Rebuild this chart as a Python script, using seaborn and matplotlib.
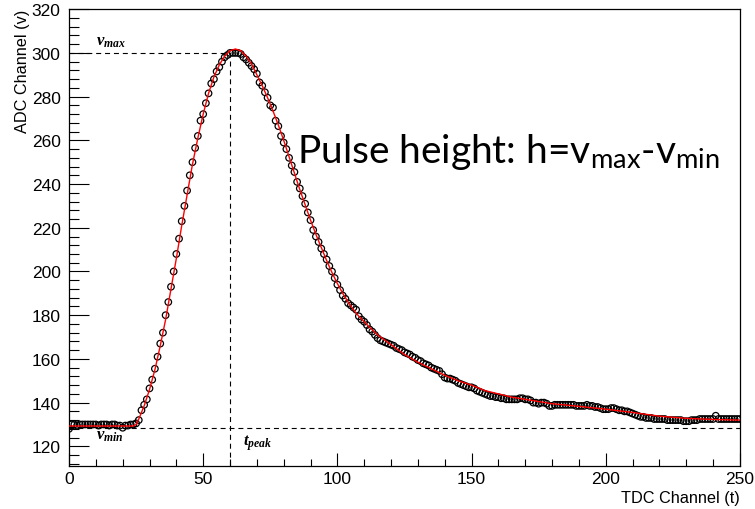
import numpy as np
import pandas as pd
import matplotlib.pyplot as plt
import seaborn as sns
from matplotlib.ticker import MultipleLocator

# measured pulse, one ADC value per TDC channel (0..250)
tdc = list(range(0, 251))
adc = [
    # 0-24 baseline
    128, 130, 130, 129.5, 130, 130, 130, 130, 130, 130,
    130, 129.5, 130, 130, 130, 129.5, 130, 130, 129.5, 129.5,
    128.5, 129.5, 129.5, 130, 130,
    # 25-64 rise and peak
    130.5, 132, 136.5, 139, 141.5, 146.5, 150.5, 155.5, 161, 167,
    172, 180, 186, 193, 200, 208, 215, 223, 230, 237,
    244, 250, 256.5, 262, 269, 272, 277, 281.5, 286, 288,
    291.5, 293.5, 296, 298, 299, 300, 300, 300, 300, 299.5,
    # 65-98 fall
    298, 297, 295.5, 294, 292.5, 290.5, 286.5, 285, 282, 279.5,
    276, 275, 269, 266.5, 262, 259, 256, 252, 248.5, 245.5,
    241, 238, 234.5, 231, 227, 223.5, 219, 216, 213.5, 210.5,
    208, 205.5, 202.5, 200,
    # 99-250 tail
    197, 194, 191.5, 189, 187.5, 185.5, 184.5, 183.5, 182.5, 179.5,
    178, 177, 175.5, 173.5, 172.5, 171, 169.5, 168.5, 168, 167.5,
    167, 166.5, 166, 165, 164.5, 164, 163, 162.5, 162, 161,
    160.5, 159.5, 159, 158, 157.5, 157, 156, 155.5, 155, 154.5,
    153, 151.5, 151, 151, 150.5, 150, 149, 148.5, 148, 147.5,
    147, 147, 146.5, 145.5, 145, 144.5, 144, 143.5, 143, 143,
    142.5, 142.5, 142, 142, 141.5, 141.5, 141.5, 141.5, 141.5, 142,
    142, 141.5, 141.5, 141, 140, 140, 139.5, 140, 140, 139.5,
    138.5, 138.5, 139, 139, 139, 139, 139, 139, 139, 139,
    138.5, 138.5, 138.5, 138.5, 139, 138.5, 138.5, 138, 138, 137.5,
    137, 137, 137, 137.5, 137.5, 137, 136.5, 136.5, 136, 136,
    135.5, 135, 134.5, 134, 133.5, 133.5, 133, 133, 133, 132.5,
    132.5, 132.5, 132.5, 132.5, 132, 132, 132, 132, 132, 132,
    131.5, 131.5, 131.5, 132, 132, 132, 132.5, 132.5, 132.5, 132.5,
    132.5, 132.5, 134, 132.5, 132.5, 132.5, 132.5, 132.5, 132.5, 132.5,
    132.5, 132.5,
]

# fitted pulse shape (red curve)
fit_t = [0, 24, 25, 26, 28, 30, 32, 34, 36, 38, 40, 42, 44, 46, 48, 50,
         52, 54, 56, 58, 60, 62, 64, 66, 68, 70, 72, 74, 76, 78, 80, 82,
         84, 86, 88, 90, 92, 94, 96, 98, 100, 102, 104, 106, 108, 110, 112,
         115, 120, 125, 130, 135, 140, 145, 150, 155, 160, 165, 170, 180,
         190, 200, 210, 220, 230, 240, 250]
fit_v = [129.3, 129.3, 130, 132.5, 138.5, 146, 155, 166, 178, 192, 206, 221,
         235, 249, 261, 272, 281.5, 289, 294.5, 298.5, 301, 301.8, 301, 298.5,
         295, 290, 285, 279.5, 273.5, 267, 260, 252.5, 245, 237.5, 230.5,
         223.5, 217, 211, 205, 199.5, 194.5, 190, 186, 182.5, 179.5, 177,
         174.5, 171, 166.5, 162, 158.5, 155.5, 152.5, 150, 148, 145.5, 144,
         142.5, 141.5, 139.5, 138.3, 137, 135.5, 133.8, 132.8, 132.3, 132]

v_max = 300
v_min = 128.5
t_peak = 60

df = pd.DataFrame({'tdc': tdc, 'adc': adc})
fit = pd.DataFrame({'t': fit_t, 'v': fit_v})

sns.set_style('ticks')
plt.rcParams['font.family'] = ['Liberation Sans', 'DejaVu Sans']
plt.rcParams['mathtext.fontset'] = 'custom'
plt.rcParams['mathtext.it'] = 'Liberation Serif:italic:bold'
plt.rcParams['mathtext.rm'] = 'Liberation Serif:italic:bold'
for key in ['text.color', 'axes.labelcolor', 'xtick.color', 'ytick.color', 'axes.edgecolor']:
    plt.rcParams[key] = 'black'

fig, ax = plt.subplots(figsize=(7.55, 5.10), dpi=100)
fig.subplots_adjust(left=0.0914, right=0.980, bottom=0.0843, top=0.980)

ymin = 111
ax.set_xlim(0, 250)
ax.set_ylim(ymin, 320)

# dashed guide lines
ax.hlines(v_max, 0, t_peak, colors='black', linestyles=(0, (4.5, 3.5)), lw=0.8)
ax.vlines(t_peak, ymin, v_max, colors='black', linestyles=(0, (4.5, 3.5)), lw=0.8)
ax.hlines(v_min, 0, 250, colors='black', linestyles=(0, (4.5, 3.5)), lw=0.8)

sns.scatterplot(data=df, x='tdc', y='adc', ax=ax, marker='o', s=22,
                facecolors='none', edgecolor='black', linewidth=0.9, zorder=3)
sns.lineplot(data=fit, x='t', y='v', ax=ax, color='red', lw=1.0, zorder=4)

ax.text(10, 304, r'$v_{max}$', fontsize=12)
ax.text(10, 123.5, r'$v_{min}$', fontsize=12)
ax.text(65, 121, r'$t_{peak}$', fontsize=12)
ax.text(85, 250, r'Pulse height: h=v$_\mathregular{max}$-v$_\mathregular{min}$',
        family='Lato', fontsize=28)

ax.xaxis.set_major_locator(MultipleLocator(50))
ax.xaxis.set_minor_locator(MultipleLocator(10))
ax.yaxis.set_major_locator(MultipleLocator(20))
ax.yaxis.set_minor_locator(MultipleLocator(4))
ax.tick_params(axis='both', which='both', direction='in', top=False, right=False,
               width=0.8, labelsize=12.5, colors='black')
ax.tick_params(axis='y', which='major', length=14.4, pad=6)
ax.tick_params(axis='y', which='minor', length=7.2)
ax.tick_params(axis='x', which='major', length=9.4, pad=3.5)
ax.tick_params(axis='x', which='minor', length=5)
for sp in ax.spines.values():
    sp.set_linewidth(0.9)
    sp.set_color('black')
    sp.set_visible(True)

ax.set_xlabel('TDC Channel (t)', fontsize=11.7, loc='right')
ax.set_ylabel('ADC Channel (v)', fontsize=11.7, loc='top')
ax.xaxis.set_label_coords(1.0, -0.0525)
ax.yaxis.set_label_coords(-0.058, 1.0)

plt.savefig('out.png', dpi=100)
